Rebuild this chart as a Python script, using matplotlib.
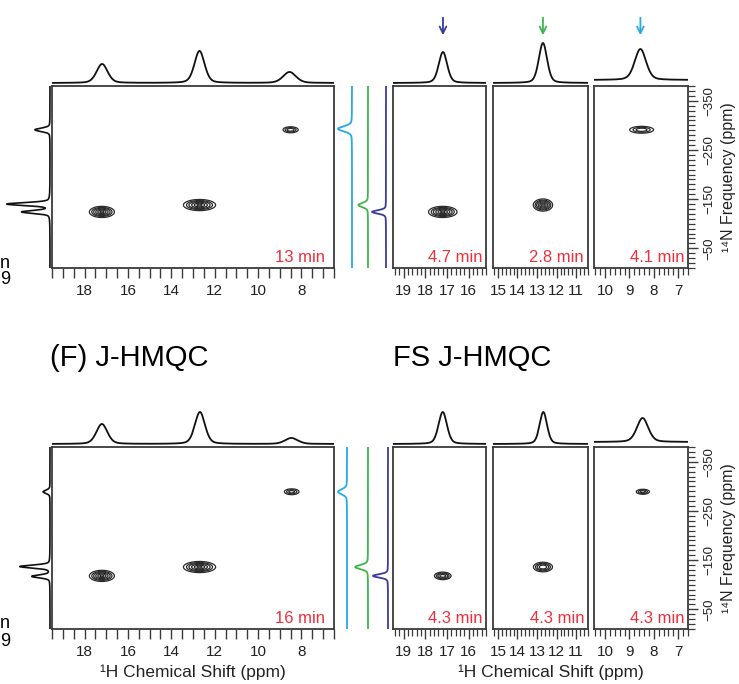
import numpy as np
import matplotlib
matplotlib.use("Agg")
import matplotlib.pyplot as plt
from matplotlib.ticker import MultipleLocator

plt.rcParams["font.family"] = ["Liberation Sans", "DejaVu Sans"]
plt.rcParams["axes.unicode_minus"] = True

# ---------------- data ----------------
# 1H / 14N correlation peaks (ppm)
peak_h_top = [17.2, 12.7, 8.5]
peak_n_top = [-124, -138, -291]
peak_h_bot = [17.2, 12.7, 8.45]
peak_n_bot = [-118, -136, -289]

# contour amplitudes (relative) for the full 2D maps and the selective maps
main_amp_top = [1.0, 1.0, 0.55]
main_amp_bot = [1.0, 1.0, 0.5]
sel_amp_top = [1.0, 1.0, 0.55]
sel_amp_bot = [0.75, 0.8, 0.5]

# 2D peak widths (sigma, 1H ppm / 14N ppm)
main_sig_h = [0.28, 0.36, 0.2]
main_sig_n = [5.5, 5.5, 3.5]
sel_sig_h_top = [0.32, 0.24, 0.28]
sel_sig_n_top = [5.5, 6.0, 4.0]
sel_sig_h_bot = [0.2, 0.25, 0.16]
sel_sig_n_bot = [4.0, 5.0, 3.0]

# 1H projections (relative heights, FWHM in ppm)
proj_pos_top = [17.19, 12.7, 8.55]
proj_ht_top = [0.475, 0.8, 0.275]
proj_fw_top = [0.6, 0.55, 0.7]
proj_pos_bot = [17.2, 12.68, 8.46]
proj_ht_bot = [0.5, 0.8, 0.15]
proj_fw_bot = [0.6, 0.55, 0.7]

sel_proj_ht_top = [0.775, 1.0, 0.775]
sel_proj_fw_top = [0.46, 0.5, 0.55]
sel_proj_base_top = [0.0, 0.0, 0.075]
sel_proj_ht_bot = [0.8, 0.8, 0.6]
sel_proj_fw_bot = [0.46, 0.45, 0.55]
sel_proj_base_bot = [0.0, 0.0, 0.05]

# 14N projections (relative heights, FWHM in ppm)
nproj_pos_top = [-291, -140, -124]
nproj_ht_top = [0.35, 1.0, 0.65]
nproj_pos_bot = [-289, -137, -117]
nproj_ht_bot = [0.16, 0.7, 0.42]
nproj_fw = [8, 7, 7]

# 14N slices at the selected 1H sites (cyan 8.5, green 12.7, navy 17.2)
slice_pos_top = [-293, -138, -124]
slice_ht_top = [0.875, 0.6, 0.875]
slice_pos_bot = [-289, -136, -118]
slice_ht_bot = [0.56, 0.8, 0.94]
slice_fw = [12, 10, 8]

# experiment times
main_time = ["13 min", "16 min"]
sel_time_top = ["4.7 min", "2.8 min", "4.1 min"]
sel_time_bot = ["4.3 min", "4.3 min", "4.3 min"]

# axes ranges / ticks
main_xlim = (19.5, 6.5)
main_xticks = [18, 16, 14, 12, 10, 8]
sel_xlims = [(19.5, 15.2), (15.25, 10.4), (10.45, 6.6)]
sel_xticks = [[19, 18, 17, 16], [15, 14, 13, 12, 11], [10, 9, 8, 7]]
n_lim = (-10, -380)
n_ticks = [-350, -250, -150, -50]

site_colors = ["#27aae1", "#3fb54b", "#3b3b9e"]   # 8.5, 12.7, 17.2 ppm
arrow_colors = ["#3b3b9e", "#3fb54b", "#27aae1"]  # panel order 17.2, 12.7, 8.5
red = "#ed2f3b"
frame_col = "#3a3a3a"

# ---------------- figure ----------------
W, H = 739, 684
fig = plt.figure(figsize=(W / 100, H / 100), dpi=100)


def px_axes(l, t, r, b):
    return fig.add_axes([l / W, 1 - b / H, (r - l) / W, (b - t) / H])


def line_shape(x, x0, fwhm):
    s = fwhm / 2.3548
    g = np.exp(-0.5 * ((x - x0) / s) ** 2)
    lz = 1.0 / (1.0 + ((x - x0) / (fwhm / 2)) ** 2)
    return 0.7 * g + 0.3 * lz


def bare(ax):
    ax.set_axis_off()


def style_box(ax):
    for sp in ax.spines.values():
        sp.set_color(frame_col)
        sp.set_linewidth(1.3)
    ax.tick_params(axis="y", left=False, labelleft=False)


def contour2d(ax, xlim, hs, ns, amps, sh, sn):
    x = np.linspace(xlim[1], xlim[0], 500)
    y = np.linspace(-380, -10, 500)
    X, Y = np.meshgrid(x, y)
    Z = np.zeros_like(X)
    for h0, n0, a, s1, s2 in zip(hs, ns, amps, sh, sn):
        Z += a * np.exp(-0.5 * ((X - h0) / s1) ** 2 - 0.5 * ((Y - n0) / s2) ** 2)
    ax.contour(X, Y, Z, levels=[0.12, 0.25, 0.4, 0.6, 0.8, 0.95],
               colors="#2b2b2b", linewidths=0.9)


rows = [
    dict(t=86, b=268, hs=peak_h_top, ns=peak_n_top, mamp=main_amp_top,
         samp=sel_amp_top, ssh=sel_sig_h_top, ssn=sel_sig_n_top,
         ppos=proj_pos_top, pht=proj_ht_top, pfw=proj_fw_top,
         spht=sel_proj_ht_top, spfw=sel_proj_fw_top, spb=sel_proj_base_top,
         npos=nproj_pos_top, nht=nproj_ht_top,
         slpos=slice_pos_top, slht=slice_ht_top, slx=[352, 368, 386],
         tmain=main_time[0], tsel=sel_time_top),
    dict(t=447, b=629, hs=peak_h_bot, ns=peak_n_bot, mamp=main_amp_bot,
         samp=sel_amp_bot, ssh=sel_sig_h_bot, ssn=sel_sig_n_bot,
         ppos=proj_pos_bot, pht=proj_ht_bot, pfw=proj_fw_bot,
         spht=sel_proj_ht_bot, spfw=sel_proj_fw_bot, spb=sel_proj_base_bot,
         npos=nproj_pos_bot, nht=nproj_ht_bot,
         slpos=slice_pos_bot, slht=slice_ht_bot, slx=[347, 368, 388],
         tmain=main_time[1], tsel=sel_time_bot),
]

sel_cols = [(393, 486), (493, 588), (594, 688)]
tick_kw = dict(direction="out", length=7, width=1.0, color=frame_col,
               labelsize=11, pad=4.5, labelcolor="#222222")

for ri, r in enumerate(rows):
    t, b = r["t"], r["b"]

    # ---- full 2D map ----
    ax = px_axes(52, t, 334, b)
    contour2d(ax, main_xlim, r["hs"], r["ns"], r["mamp"], main_sig_h, main_sig_n)
    ax.set_xlim(*main_xlim)
    ax.set_ylim(*n_lim)
    style_box(ax)
    ax.set_xticks(main_xticks)
    ax.xaxis.set_minor_locator(MultipleLocator(0.5))
    ax.tick_params(axis="x", which="both", **tick_kw)
    ax.annotate(r["tmain"], xy=(1, 0), xycoords="axes fraction",
                xytext=(-9, 3), textcoords="offset pixels",
                ha="right", va="bottom", color=red, fontsize=12)

    # 1H projection on top
    axp = px_axes(52, t - 56, 334, t)
    xs = np.linspace(main_xlim[1], main_xlim[0], 800)
    spec = sum(h * line_shape(xs, p, f) for p, h, f in zip(r["ppos"], r["pht"], r["pfw"]))
    axp.plot(xs, spec, color="#111111", lw=1.3)
    axp.set_xlim(*main_xlim)
    axp.set_ylim(-0.075, 1.325)
    bare(axp)

    # 14N projection on the left
    axl = px_axes(0, t, 52, b)
    ny = np.linspace(-380, -10, 800)
    nspec = sum(h * line_shape(ny, p, f) for p, h, f in zip(r["npos"], r["nht"], nproj_fw))
    axl.plot(nspec, ny, color="#111111", lw=1.2)
    axl.set_xlim(50 / 43, -2 / 43)
    axl.set_ylim(*n_lim)
    bare(axl)

    # 14N slices through the selected sites
    for ci in range(3):
        x0 = r["slx"][ci]
        axs = px_axes(x0 - 20, t, x0 + 2, b)
        sl = r["slht"][ci] * line_shape(ny, r["slpos"][ci], slice_fw[ci])
        axs.plot(sl, ny, color=site_colors[ci], lw=1.3)
        axs.set_xlim(20 / 16, -2 / 16)
        axs.set_ylim(*n_lim)
        bare(axs)

    # ---- selective 2D maps ----
    for pi, (l, rr) in enumerate(sel_cols):
        xl = sel_xlims[pi]
        axk = px_axes(l, t, rr, b)
        contour2d(axk, xl, [r["hs"][pi]], [r["ns"][pi]], [r["samp"][pi]],
                  [r["ssh"][pi]], [r["ssn"][pi]])
        axk.set_xlim(*xl)
        axk.set_ylim(*n_lim)
        style_box(axk)
        axk.set_xticks(sel_xticks[pi])
        axk.xaxis.set_minor_locator(MultipleLocator(0.2))
        axk.tick_params(axis="x", which="major", **tick_kw)
        axk.tick_params(axis="x", which="minor", direction="out", length=5,
                        width=0.9, color=frame_col)
        axk.annotate(r["tsel"][pi], xy=(1, 0), xycoords="axes fraction",
                     xytext=(-4, 3), textcoords="offset pixels",
                     ha="right", va="bottom", color=red, fontsize=12)
        if pi == 2:
            axk.yaxis.tick_right()
            axk.set_yticks(n_ticks)
            axk.yaxis.set_minor_locator(MultipleLocator(10))
            axk.tick_params(axis="y", which="major", right=True, labelright=True,
                            direction="out", length=7, width=1.0, color=frame_col,
                            labelsize=9.5, pad=4, labelcolor="#222222",
                            labelrotation=90)
            axk.tick_params(axis="y", which="minor", right=True, direction="out",
                            length=5, width=0.9, color=frame_col)
            for lab in axk.get_yticklabels():
                lab.set_va("center")

        # projection above each selective map
        axq = px_axes(l, t - 56, rr, t)
        xq = np.linspace(xl[1], xl[0], 500)
        pos = [proj_pos_top, proj_pos_bot][ri][pi]
        q = r["spb"][pi] + r["spht"][pi] * line_shape(xq, pos, r["spfw"][pi])
        axq.plot(xq, q, color="#111111", lw=1.3)
        axq.set_xlim(*xl)
        axq.set_ylim(-0.075, 1.325)
        bare(axq)

        if ri == 0:
            axq.annotate("", xy=(pos, 0.857), xytext=(pos, 1.27),
                         xycoords=("data", "axes fraction"),
                         textcoords=("data", "axes fraction"),
                         arrowprops=dict(arrowstyle="->", color=arrow_colors[pi],
                                         lw=1.3, mutation_scale=12),
                         annotation_clip=False)

    # right axis label
    fig.text(728 / W, 1 - (t + b) / 2 / H, "\u00b9\u2074N Frequency (ppm)",
             rotation=90, ha="center", va="center", fontsize=11.5, color="#222222")

    # edge labels from the neighbouring panel
    fig.text(0 / W, 1 - (b - 5) / H, "n", ha="left", va="center", fontsize=13)
    fig.text(0 / W, 1 - (b + 12) / H, "9", ha="left", va="center", fontsize=13)

# titles and x labels
fig.text(50 / W, 1 - 358 / H, "(F) J-HMQC", ha="left", va="center", fontsize=21)
fig.text(393 / W, 1 - 358 / H, "FS J-HMQC", ha="left", va="center", fontsize=21)
fig.text(193 / W, 1 - 672 / H, "\u00b9H Chemical Shift (ppm)", ha="center",
         va="center", fontsize=12.5, color="#222222")
fig.text(551 / W, 1 - 672 / H, "\u00b9H Chemical Shift (ppm)", ha="center",
         va="center", fontsize=12.5, color="#222222")

fig.savefig("out.png", dpi=100)
